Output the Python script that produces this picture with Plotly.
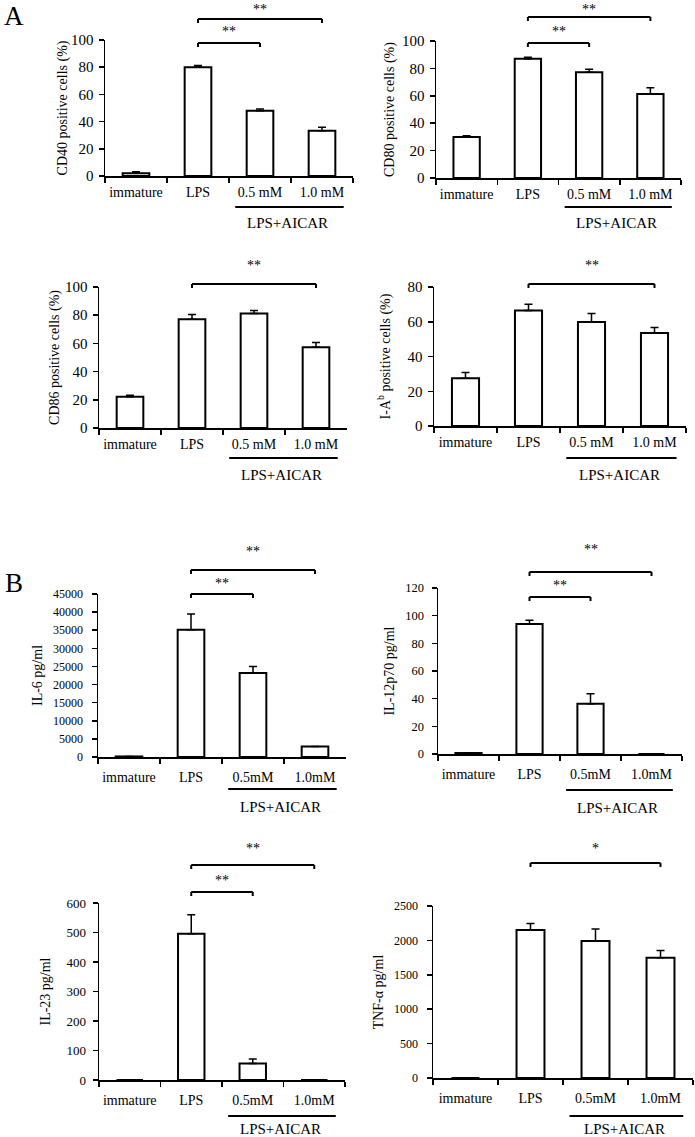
import plotly.graph_objects as go

W, H = 695, 1137

# ---------------- data ----------------
categories_A = ["immature", "LPS", "0.5 mM", "1.0 mM"]
categories_B = ["immature", "LPS", "0.5mM", "1.0mM"]

cd40_mean = [2.0, 80.0, 48.0, 33.3]
cd40_err = [1.2, 1.2, 1.2, 2.5]
cd80_mean = [29.9, 87.1, 77.1, 61.3]
cd80_err = [1.0, 1.0, 2.2, 4.6]
cd86_mean = [22.1, 77.2, 81.2, 57.2]
cd86_err = [1.2, 3.3, 2.2, 3.4]
iab_mean = [27.5, 66.5, 59.8, 53.5]
iab_err = [3.3, 3.5, 5.0, 3.2]

il6_mean = [150, 35100, 23200, 2900]
il6_err = [0, 4400, 1800, 0]
il12_mean = [0.7, 94.0, 36.4, 0]
il12_err = [0, 2.7, 7.2, 0]
il23_mean = [0, 496, 56, 0]
il23_err = [0, 64, 15, 0]
tnf_mean = [0, 2150, 1990, 1748]
tnf_err = [0, 97, 175, 107]

y_titles = ["CD40 positive cells (%)", "CD80 positive cells (%)",
            "CD86 positive cells (%)", "I-A<sup>b</sup> positive cells (%)",
            "IL-6 pg/ml", "IL-12p70 pg/ml", "IL-23 pg/ml", "TNF-α pg/ml"]
y_ranges = [100, 100, 100, 80, 45000, 120, 600, 2500]
y_dticks = [20, 20, 20, 20, 5000, 20, 100, 500]
group_label = "LPS+AICAR"

# ---------------- layout helpers ----------------
FONT = "Liberation Serif"

def px_x(v):
    return v / W

def px_y(v):
    return 1 - v / H

# pixel boxes: x0, x1, ytop, ybottom
panels = [
    dict(cats=categories_A, mean=cd40_mean, err=cd40_err, box=(105, 353, 40, 176), tfs=15,
         brackets=[(1, 2, 43, 32, "**"), (1, 3, 19, 9, "**")], ul=207, gl=223,
         std=2, ystd=2, tstd=0),
    dict(cats=categories_A, mean=cd80_mean, err=cd80_err, box=(436, 681, 41, 178), tfs=15,
         brackets=[(1, 2, 43, 31, "**"), (1, 3, 17, 9, "**")], ul=207, gl=223,
         std=2, ystd=2, tstd=4),
    dict(cats=categories_A, mean=cd86_mean, err=cd86_err, box=(99, 347, 287, 428), tfs=15,
         brackets=[(1, 3, 284, 266, "**")], ul=458, gl=475,
         std=2, ystd=2, tstd=2),
    dict(cats=categories_A, mean=iab_mean, err=iab_err, box=(434, 686, 287, 426), tfs=15,
         brackets=[(1, 3, 284, 266, "**")], ul=458, gl=475,
         std=2, ystd=2, tstd=13),
    dict(cats=categories_B, mean=il6_mean, err=il6_err, box=(98, 346, 594, 757), tfs=12,
         brackets=[(1, 2, 594, 583, "**"), (1, 3, 570, 551, "**")], ul=789, gl=807,
         std=6, ystd=6, tstd=7),
    dict(cats=categories_B, mean=il12_mean, err=il12_err, box=(438, 682, 588, 754), tfs=12.5,
         brackets=[(1, 2, 597, 585, "**"), (1, 3, 572, 550, "**")], ul=790, gl=808,
         std=6, ystd=5, tstd=7),
    dict(cats=categories_B, mean=il23_mean, err=il23_err, box=(99, 345, 903, 1080), tfs=13,
         brackets=[(1, 2, 892, 880, "**"), (1, 3, 865, 848, "**")], ul=1116, gl=1129,
         std=6, ystd=4, tstd=12),
    dict(cats=categories_B, mean=tnf_mean, err=tnf_err, box=(433, 693, 906, 1078), tfs=12,
         brackets=[(1, 3, 863, 848, "*")], ul=1116, gl=1129,
         std=6, ystd=6, tstd=7),
]

fig = go.Figure()
shapes = []
annotations = []

for k, p in enumerate(panels):
    n = k + 1
    sfx = "" if n == 1 else str(n)
    xname, yname = "x" + sfx, "y" + sfx
    x0, x1, yt, yb = p["box"]
    fig.add_trace(go.Bar(
        x=p["cats"], y=p["mean"], xaxis=xname, yaxis=yname,
        width=0.43,
        marker=dict(color="white", line=dict(color="black", width=2)),
        error_y=dict(type="data", array=p["err"], arrayminus=[0] * 4,
                     symmetric=False, color="black", thickness=1.5, width=4),
        showlegend=False, hoverinfo="skip",
    ))
    fig.layout["xaxis" + sfx] = dict(
        domain=[px_x(x0), px_x(x1)], anchor=yname, type="category",
        range=[-0.5, 3.5], showline=True, linecolor="black", linewidth=2,
        ticks="outside", tickson="boundaries", ticklen=5, tickwidth=1.5,
        tickcolor="black", showgrid=False, zeroline=False, automargin=False,
        tickangle=0,
        tickfont=dict(family=FONT, size=14, color="black"),
        ticklabelstandoff=p["std"], fixedrange=True,
    )
    fig.layout["yaxis" + sfx] = dict(
        domain=[px_y(yb), px_y(yt)], anchor=xname,
        range=[0, y_ranges[k]], tick0=0, dtick=y_dticks[k], tickformat="d",
        showline=True, linecolor="black", linewidth=1.5,
        ticks="outside", ticklen=5, tickwidth=1.5, tickcolor="black",
        showgrid=False, zeroline=False, automargin=False,
        ticklabelstandoff=p["ystd"],
        tickfont=dict(family=FONT, size=p["tfs"], color="black"),
        title=dict(text=y_titles[k], font=dict(family=FONT, size=14, color="black"),
                   standoff=p["tstd"]),
        fixedrange=True,
    )
    # significance brackets
    tick = 4 / H
    for (i, j, yb_px, ys_px, txt) in p["brackets"]:
        yy = px_y(yb_px)
        shapes.append(dict(type="line", xref=xname, yref="paper", x0=i, x1=j, y0=yy, y1=yy,
                           line=dict(color="black", width=2)))
        for xe in (i, j):
            shapes.append(dict(type="line", xref=xname, yref="paper", x0=xe, x1=xe,
                               y0=yy, y1=yy - tick, line=dict(color="black", width=2)))
        annotations.append(dict(text=txt, xref=xname, yref="paper", x=(i + j) / 2,
                                y=px_y(ys_px), showarrow=False,
                                font=dict(family=FONT, size=14, color="black"),
                                xanchor="center", yanchor="middle"))
    # group underline and label
    uy = px_y(p["ul"])
    shapes.append(dict(type="line", xref=xname, yref="paper", x0=1.6, x1=3.35, y0=uy, y1=uy,
                       line=dict(color="black", width=2)))
    annotations.append(dict(text=group_label, xref=xname, yref="paper", x=2.45,
                            y=px_y(p["gl"]), showarrow=False,
                            font=dict(family=FONT, size=15, color="black"),
                            xanchor="center", yanchor="middle"))

# panel letters
annotations.append(dict(text="A", xref="paper", yref="paper", x=px_x(2), y=px_y(16),
                        showarrow=False, xanchor="left", yanchor="middle",
                        font=dict(family=FONT, size=27, color="black")))
annotations.append(dict(text="B", xref="paper", yref="paper", x=px_x(3), y=px_y(583),
                        showarrow=False, xanchor="left", yanchor="middle",
                        font=dict(family=FONT, size=27, color="black")))

fig.update_layout(
    template="none",
    width=W, height=H, margin=dict(l=0, r=0, t=0, b=0, pad=0, autoexpand=False),
    plot_bgcolor="white", paper_bgcolor="white",
    font=dict(family=FONT, color="black"),
    shapes=shapes, annotations=annotations, showlegend=False,
)

fig.write_html("out.html", config={"displayModeBar": False, "staticPlot": True},
               post_script="document.body.style.margin='0px';")
